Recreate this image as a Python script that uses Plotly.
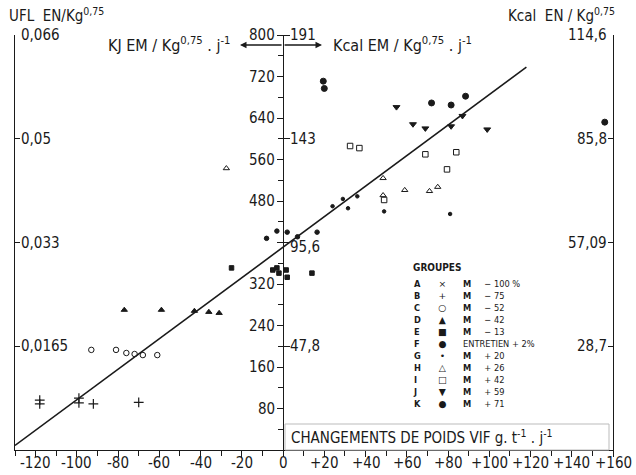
import plotly.graph_objects as go

# ---------------- data ----------------
# x: live-weight change (g / kg^0.75 / day), y: ME intake (kJ / kg^0.75 / day)
B_x = [-118, -118, -99, -99, -92, -70]
B_y = [96, 89, 100, 91, 89, 92]
C_x = [-93, -81, -76, -72, -68, -61]
C_y = [193, 193, 187, 185, 183, 183]
D_x = [-77, -59, -43, -36, -31]
D_y = [270, 270, 268, 266, 264]
E_x = [-25, -5, -3, -2, 1.5, 2, 14]
E_y = [351, 347, 351, 341, 347, 333, 341]
F_x = [-8, -3, 2, 7, 16.5]
F_y = [408, 422, 420, 411, 420]
G_x = [24, 29, 31.5, 36, 49, 81]
G_y = [470, 484, 466, 489, 460, 455]
H_x = [-27.5, 48.5, 48.5, 59, 71, 75]
H_y = [543, 524, 491, 501, 499, 507]
I_x = [32.5, 37, 69, 84, 79.5, 49]
I_y = [586, 582, 570, 574, 541, 482]
J_x = [55, 63, 69, 81.5, 87, 99]
J_y = [661, 628, 620, 624, 644, 618]
K_x = [19.5, 20, 72, 81.5, 88.5, 156]
K_y = [711, 697, 669, 665, 682, 632]

# regression line  y = a + b x
reg_a = 391
reg_b = 2.94
reg_xrange = [-130, 118]

x_ticks = [-120, -100, -80, -60, -40, -20, 0, 20, 40, 60, 80, 100, 120, 140, 160]
x_ticktext = ["-120", "-100", "-80", "-60", "-40", "-20", "0", "+20", "+40", "+60",
              "+80", "+100", "+120", "+140", "+160"]
kj_ticks = [80, 160, 240, 320, 400, 480, 560, 640, 720, 800]
kj_text = ["80", "160", "240", "320", "", "480", "560", "640", "720", "800"]
kcal_ticks = [200, 400, 600, 800]
kcal_text = ["47,8", "95,6", "143", "191"]
ufl_text = ["0,0165", "0,033", "0,05", "0,066"]
kcalen_text = ["28,7", "57,09", "85,8", "114,6"]

legend_letters = ["A", "B", "C", "D", "E", "F", "G", "H", "I", "J", "K"]
legend_symbols = ["×", "+", "○", "▲", "■", "●", "•", "△", "□", "▼", "●"]
legend_M = ["M", "M", "M", "M", "M", "", "M", "M", "M", "M", "M"]
legend_vals = ["− 100 %", "− 75", "− 52", "− 42", "− 13", "ENTRETIEN + 2%",
               "+ 20", "+ 26", "+ 42", "+ 59", "+ 71"]

# ---------------- geometry ----------------
W, H = 636, 475
L, R, T, Bm = 15, 613, 35, 450
XR = [-130, 160]
YR = [0, 800]
FONT = "Liberation Sans Narrow, DejaVu Sans Condensed, Liberation Sans, Arial, sans-serif"
INK = "#1a1a1a"


def P(xp, yp):
    return (xp - L) / (R - L), (Bm - yp) / (Bm - T)


def ypx(v):
    return Bm - (v - YR[0]) / (YR[1] - YR[0]) * (Bm - T)


def xpx(v):
    return L + (v - XR[0]) / (XR[1] - XR[0]) * (R - L)


fig = go.Figure()

line_x = reg_xrange
line_y = [reg_a + reg_b * v for v in reg_xrange]
fig.add_trace(go.Scatter(x=line_x, y=line_y, mode="lines",
                         line=dict(color=INK, width=1.6), showlegend=False))


def pts(xs, ys, symbol, size, width=1.0):
    fig.add_trace(go.Scatter(x=xs, y=ys, mode="markers", showlegend=False,
                             marker=dict(symbol=symbol, size=size, color=INK,
                                         line=dict(color=INK, width=width))))


pts(B_x, B_y, "cross-thin", 7, 1.2)
pts(C_x, C_y, "circle-open", 5.5, 1.0)
pts(D_x, D_y, "triangle-up", 5.5)
pts(E_x, E_y, "square", 4.5)
pts(F_x, F_y, "circle", 4.5)
pts(G_x, G_y, "circle", 3.5)
pts(H_x, H_y, "triangle-up-open", 5.5, 1.0)
pts(I_x, I_y, "square-open", 5.5, 1.0)
pts(J_x, J_y, "triangle-down", 6)
pts(K_x, K_y, "circle", 6)

center_pos = (0 - XR[0]) / (XR[1] - XR[0])

common = dict(showgrid=False, zeroline=False, showticklabels=False,
              tickcolor=INK, tickwidth=1.2)

fig.update_layout(
    width=W, height=H,
    margin=dict(l=L, r=W - R, t=T, b=H - Bm),
    paper_bgcolor="white", plot_bgcolor="white",
    font=dict(family=FONT, color=INK, size=14),
    xaxis=dict(range=XR, showline=True, linecolor=INK, linewidth=1.3,
               ticks="outside", ticklen=6, tickvals=x_ticks,
               minor=dict(dtick=10, tick0=0, ticks="outside", ticklen=5,
                          tickcolor=INK, tickwidth=1), **common),
    yaxis=dict(range=YR, showline=True, linecolor=INK, linewidth=1.3,
               ticks="inside", ticklen=5, tickvals=kcal_ticks, **common),
    yaxis2=dict(range=YR, overlaying="y", side="right", anchor="x",
                showline=True, linecolor=INK, linewidth=1.3,
                ticks="inside", ticklen=5, tickvals=kcal_ticks, **common),
    yaxis3=dict(range=YR, overlaying="y", side="left", anchor="free",
                position=center_pos, showline=True, linecolor=INK, linewidth=1.3,
                ticks="outside", ticklen=6, tickvals=kj_ticks,
                minor=dict(tickvals=[40, 120, 200, 280, 360, 440, 520, 600, 680, 760],
                           ticks="outside", ticklen=5, tickcolor=INK, tickwidth=1),
                **common),
    yaxis4=dict(range=YR, overlaying="y", side="right", anchor="free",
                position=center_pos, showline=False, ticks="outside", ticklen=6,
                tickvals=kcal_ticks, **common),
)

# dummy invisible traces to activate the extra axes
for ax in ["y2", "y3", "y4"]:
    fig.add_trace(go.Scatter(x=[0], y=[0], yaxis=ax, mode="markers",
                             marker=dict(opacity=0), showlegend=False,
                             hoverinfo="skip"))

ann = []


def text(xp, yp, s, size=14, xanchor="left", yanchor="middle", family=FONT,
         align="left"):
    x, y = P(xp, yp)
    ann.append(dict(x=x, y=y, xref="paper", yref="paper", text=s,
                    showarrow=False, xanchor=xanchor, yanchor=yanchor,
                    align=align, borderpad=0,
                    font=dict(size=size, family=family, color=INK)))


# tick labels
for v, s in zip(x_ticks, x_ticktext):
    text(xpx(v), 463, s, 15, xanchor="center")
for v, s in zip(kj_ticks, kj_text):
    if s:
        text(xpx(0) - 7, ypx(v), s, 15, xanchor="right")
for v, s in zip(kcal_ticks, kcal_text):
    text(xpx(0) + 6, ypx(v) + (5 if v == 400 else 0), s, 15, xanchor="left")
for v, s in zip(kcal_ticks, ufl_text):
    text(L + 5, ypx(v), s, 15, xanchor="left")
for v, s in zip(kcal_ticks, kcalen_text):
    text(R - 5, ypx(v), s, 15, xanchor="right")

text(8, 15, "UFL  EN/Kg<sup>0,75</sup>", 15)
text(616, 15, "Kcal  EN / Kg<sup>0,75</sup>", 15, xanchor="right")
text(232, 45, "KJ EM / Kg<sup>0,75</sup> . j<sup>-1</sup>", 16, xanchor="right")
text(332, 45, "Kcal EM / Kg<sup>0,75</sup> . j<sup>-1</sup>", 16)

# double arrow
for xe in [240, 322]:
    x, y = P(xe, 45)
    ann.append(dict(x=x, y=y, xref="paper", yref="paper", text="",
                    showarrow=True, arrowhead=2, arrowsize=1, arrowwidth=1.3,
                    arrowcolor=INK, ax=(xpx(0) - xe), ay=0))

# legend block (one multi-line annotation per column)
LFONT = "DejaVu Sans Condensed, DejaVu Sans, sans-serif"
LSIZE = 9.2
row0, rowN = 283, 403
ymid = (row0 + rowN) / 2
text(412, 267, "<b>GROUPES</b>", 10, family=LFONT)
text(412, ymid, "<br>".join("<b>%s</b>" % l for l in legend_letters),
     LSIZE, family=LFONT)
text(442, ymid, "<br>".join(legend_symbols), LSIZE,
     xanchor="center", align="center", family="DejaVu Sans, sans-serif")
rows = []
for m, v in zip(legend_M, legend_vals):
    if m:
        rows.append("<b>%s</b>&nbsp;&nbsp;&nbsp;&nbsp;&nbsp;%s" % (m, v))
    else:
        rows.append(v)
text(462, ymid, "<br>".join(rows), LSIZE, family=LFONT)

text(290, 437, "CHANGEMENTS DE POIDS VIF g. t<sup>-1</sup> . j<sup>-1</sup>", 15)

x0, y0 = P(285, 424)
x1, y1 = P(609, 450)
fig.add_shape(type="rect", xref="paper", yref="paper", x0=x0, y0=y1, x1=x1, y1=y0,
              line=dict(color="#bbbbbb", width=1), fillcolor="rgba(0,0,0,0)")

fig.update_layout(annotations=ann)
fig.write_html("out.html")
